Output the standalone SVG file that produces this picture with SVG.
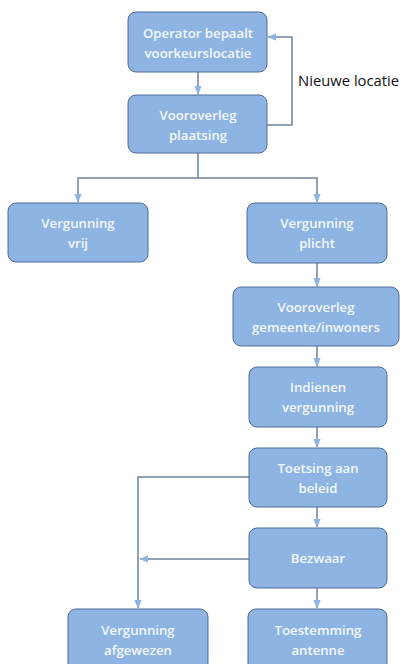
<svg xmlns="http://www.w3.org/2000/svg" width="403" height="664" viewBox="0 0 403 664">
<defs>
<style>
.box{fill:#8db4e2;stroke:#4e6d94;stroke-width:1}
.t{font-family:"Open Sans","Noto Sans",sans-serif;font-size:13.2px;font-weight:600;fill:#f4f8fd;text-anchor:middle}
.c{fill:none;stroke:#6f829c;stroke-width:1.5}
.lbl{font-family:"Open Sans","Noto Sans",sans-serif;font-size:14.8px;fill:#111}
</style>
<marker id="ah2" viewBox="0 0 10 10" refX="9" refY="5" markerWidth="9" markerHeight="9" orient="auto" markerUnits="userSpaceOnUse">
<path d="M0,1 L10,5 L0,9 Z" fill="#8db4e2"/>
</marker>
</defs>
<rect width="403" height="664" fill="#ffffff"/>
<g id="connectors">
<path class="c" d="M198,72 V94" marker-end="url(#ah2)"/>
<path class="c" d="M267,125 H292 V37 H268" marker-end="url(#ah2)"/>
<path class="c" d="M198,153 V178 H78 V202" marker-end="url(#ah2)"/>
<path class="c" d="M198,178 H317 V202" marker-end="url(#ah2)"/>
<path class="c" d="M317,263 V286" marker-end="url(#ah2)"/>
<path class="c" d="M317,346 V366" marker-end="url(#ah2)"/>
<path class="c" d="M317,427 V447" marker-end="url(#ah2)"/>
<path class="c" d="M317,507 V527" marker-end="url(#ah2)"/>
<path class="c" d="M317,588 V608" marker-end="url(#ah2)"/>
<path class="c" d="M249,477 H138 V608" marker-end="url(#ah2)"/>
<path class="c" d="M249,559 H140" marker-end="url(#ah2)"/>
</g>
<text class="lbl" x="298" y="86">Nieuwe locatie</text>
<g id="n1"><rect class="box" x="128" y="12" width="139" height="60" rx="8"/><text class="t" x="198" y="38">Operator bepaalt</text><text class="t" x="198" y="58">voorkeurslocatie</text></g>
<g id="n2"><rect class="box" x="128" y="95" width="139" height="58" rx="8"/><text class="t" x="198" y="120">Vooroverleg</text><text class="t" x="198" y="140">plaatsing</text></g>
<g id="n3"><rect class="box" x="8" y="203" width="140" height="59" rx="8"/><text class="t" x="78" y="228">Vergunning</text><text class="t" x="78" y="248">vrij</text></g>
<g id="n4"><rect class="box" x="247" y="203" width="140" height="60" rx="8"/><text class="t" x="317" y="228">Vergunning</text><text class="t" x="317" y="248">plicht</text></g>
<g id="n5"><rect class="box" x="233" y="287" width="166" height="59" rx="8"/><text class="t" x="316" y="312">Vooroverleg</text><text class="t" x="316" y="332">gemeente/inwoners</text></g>
<g id="n6"><rect class="box" x="249" y="367" width="138" height="60" rx="8"/><text class="t" x="318" y="392">Indienen</text><text class="t" x="318" y="412">vergunning</text></g>
<g id="n7"><rect class="box" x="249" y="448" width="138" height="59" rx="8"/><text class="t" x="318" y="473">Toetsing aan</text><text class="t" x="318" y="493">beleid</text></g>
<g id="n8"><rect class="box" x="249" y="528" width="138" height="60" rx="8"/><text class="t" x="318" y="563">Bezwaar</text></g>
<g id="n9"><rect class="box" x="68" y="609" width="140" height="62" rx="8"/><text class="t" x="138" y="635">Vergunning</text><text class="t" x="138" y="655">afgewezen</text></g>
<g id="n10"><rect class="box" x="248" y="609" width="139" height="62" rx="8"/><text class="t" x="318" y="635">Toestemming</text><text class="t" x="318" y="655">antenne</text></g>
</svg>
